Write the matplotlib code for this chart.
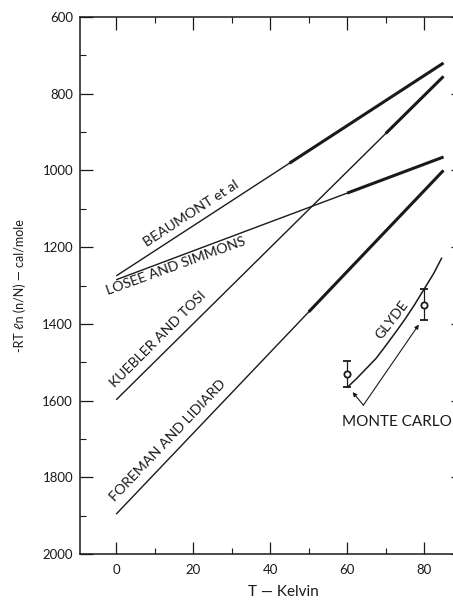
import numpy as np
import matplotlib
matplotlib.use("Agg")
import matplotlib.pyplot as plt

plt.rcParams['font.family'] = ['Lato', 'DejaVu Sans']

# straight-line fits, T = 0 .. 85 K
t_ends = [0, 85]
beaumont = [1275, 720]
losee = [1285, 965]
kuebler = [1598, 755]
foreman = [1896, 1000]
# temperature range drawn heavy (experimental range)
heavy_from = {'beaumont': 45, 'losee': 60, 'kuebler': 70, 'foreman': 50}

# Glyde curve
glyde_t = [60.3, 62.5, 65, 67.5, 70, 72.5, 75, 77.5, 80, 82.5, 84.5]
glyde_e = [1563, 1542, 1516, 1490, 1457, 1423, 1388, 1350, 1309, 1268, 1229]

# Monte Carlo points
mc_t = [60, 80]
mc_e = [1531, 1350]
mc_err = [33, 40]

ink = '#1a1a1a'

fig = plt.figure(figsize=(4.53, 6.0), dpi=100)
ax = fig.add_axes([80/453, 1-554/600, 382.7/453, 537/600])


def draw_fit(vals, t0):
    t = np.array(t_ends, dtype=float)
    v = np.array(vals, dtype=float)
    ax.plot(t, v, color=ink, lw=1.0, solid_capstyle='butt')
    v0 = np.interp(t0, t, v)
    ax.plot([t0, t[1]], [v0, v[1]], color=ink, lw=2.2, solid_capstyle='butt')


draw_fit(beaumont, heavy_from['beaumont'])
draw_fit(losee, heavy_from['losee'])
draw_fit(kuebler, heavy_from['kuebler'])
draw_fit(foreman, heavy_from['foreman'])

ax.plot(glyde_t, glyde_e, color=ink, lw=1.1)

ax.errorbar(mc_t, mc_e, yerr=mc_err, fmt='o', ms=4.5, mfc='white', mec=ink,
            mew=1.3, ecolor=ink, elinewidth=0.9, capsize=3, capthick=0.9)

# labels along the lines
lab = dict(color=ink, fontsize=10.2, ha='center', va='center')
ax.text(19.5, 1113, 'BEAUMONT et al', rotation=33, **lab)
ax.text(15.6, 1250, 'LOSEE AND SIMMONS', rotation=20, **lab)
ax.text(10.9, 1441, 'KUEBLER AND TOSI', rotation=45, **lab)
ax.text(13.5, 1704, 'FOREMAN AND LIDIARD', rotation=46.5, **lab)
ax.text(71.7, 1390, 'GLYDE', rotation=52, **lab)
ax.text(73.0, 1657, 'MONTE CARLO', color=ink, fontsize=11, ha='center',
        va='center')

arrow = dict(arrowstyle='-|>', color=ink, lw=0.8, mutation_scale=6,
             shrinkA=0, shrinkB=0)
ax.annotate('', xy=(61.4, 1578), xytext=(64.2, 1612), arrowprops=arrow)
ax.annotate('', xy=(78.6, 1402), xytext=(64.2, 1612), arrowprops=arrow)

ax.set_xlim(-9.4, 90)
ax.set_ylim(2000, 600)
ax.set_xticks([0, 20, 40, 60, 80])
ax.set_xticks([10, 30, 50, 70], minor=True)
ax.set_yticks(np.arange(600, 2001, 200))
ax.set_yticks(np.arange(700, 2000, 200), minor=True)
ax.tick_params(which='both', direction='in', top=True, right=True,
               colors=ink, labelsize=9.5)
ax.tick_params(which='major', length=9, width=0.9)
ax.tick_params(which='minor', length=4.5, width=0.8)
ax.tick_params(axis='x', pad=7)
ax.tick_params(axis='y', pad=5)
for s in ax.spines.values():
    s.set_color(ink)
    s.set_linewidth(1.1)

fig.text(283/453, 1-592/600, 'T — Kelvin', ha='center', va='center',
         fontsize=11, color=ink)
fig.text(20/453, 1-286/600, '-RT ℓn (n/N) — cal/mole', ha='center',
         va='center', rotation=90, fontsize=9, color=ink)

fig.savefig('out.png', dpi=100)
